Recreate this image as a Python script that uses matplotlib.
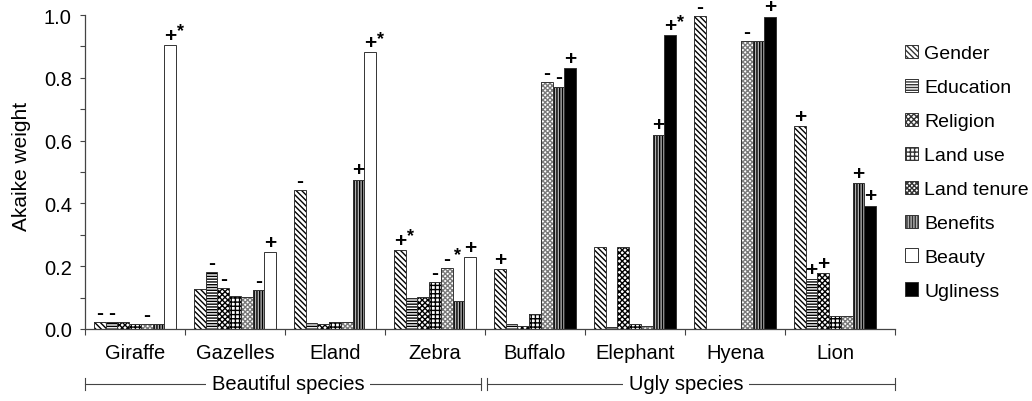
import matplotlib

matplotlib.use("Agg")
import matplotlib.pyplot as plt
import numpy as np
from matplotlib.patches import Patch
from matplotlib.transforms import blended_transform_factory

plt.rcParams["font.family"] = ["Liberation Sans", "DejaVu Sans"]
plt.rcParams["hatch.linewidth"] = 1.0

nan = np.nan
species = ["Giraffe", "Gazelles", "Eland", "Zebra",
           "Buffalo", "Elephant", "Hyena", "Lion"]
gender = [0.021, 0.128, 0.443, 0.252, 0.191, 0.260, 0.996, 0.646]
education = [0.023, 0.180, 0.019, 0.098, 0.016, 0.005, 0.0, 0.159]
religion = [0.021, 0.130, 0.016, 0.101, 0.011, 0.260, 0.0, 0.177]
land_use = [0.016, 0.105, 0.021, 0.149, 0.048, 0.016, 0.0, 0.042]
land_tenure = [0.016, 0.101, 0.023, 0.193, 0.786, 0.011, 0.916, 0.042]
benefits = [0.015, 0.124, 0.476, 0.089, 0.772, 0.619, 0.916, 0.465]
beauty = [0.905, 0.244, 0.881, 0.230, nan, nan, nan, nan]
ugliness = [nan, nan, nan, nan, 0.831, 0.936, 0.995, 0.393]

# signs above bars, per species, for the 7 drawn bars
# (Gender, Education, Religion, Land use, Land tenure, Benefits, Beauty/Ugliness)
signs = [
    ["-", "-", "", "", "-", "", "+*"],
    ["", "-", "-", "", "", "-", "+"],
    ["-", "", "", "", "", "+", "+*"],
    ["+*", "", "", "-", "-*", "", "+"],
    ["+", "", "", "", "-", "-", "+"],
    ["", "", "", "", "", "+", "+*"],
    ["-", "", "", "", "-", "", "+"],
    ["+", "+", "+", "", "", "+", "+"],
]

labels = ["Gender", "Education", "Religion", "Land use", "Land tenure",
          "Benefits", "Beauty", "Ugliness"]
styles = {
    "Gender": dict(facecolor="white", hatch="\\" * 6, hc="black"),
    "Education": dict(facecolor="white", hatch="-" * 6, hc="black"),
    "Religion": dict(facecolor="white", hatch="x" * 6, hc="black"),
    "Land use": dict(facecolor="white", hatch="++++", hc="black"),
    "Land tenure": dict(facecolor="white", hatch="x" * 7, hc="#7a7a7a"),
    "Benefits": dict(facecolor="#b0b0b0", hatch="|" * 6, hc="black"),
    "Beauty": dict(facecolor="white", hatch=None, hc="black"),
    "Ugliness": dict(facecolor="black", hatch=None, hc="black"),
}

fig = plt.figure(figsize=(10.32, 4.02), dpi=100)
ax = fig.add_axes([85 / 1032, 72 / 402, 810 / 1032, 314 / 402])

x = np.arange(len(species))
w = 0.117
series = [gender, education, religion, land_use, land_tenure, benefits]
for j, vals in enumerate(series):
    st = styles[labels[j]]
    pos = x + (j - 3) * w
    ax.bar(pos, vals, w, facecolor=st["facecolor"], hatch=st["hatch"],
           edgecolor=st["hc"], linewidth=0)
    ax.bar(pos, vals, w, facecolor="none", edgecolor="#333333", linewidth=0.7)

last = [b if not np.isnan(b) else u for b, u in zip(beauty, ugliness)]
for i in range(len(species)):
    name = "Beauty" if not np.isnan(beauty[i]) else "Ugliness"
    st = styles[name]
    ax.bar(x[i] + 3 * w, last[i], w, facecolor=st["facecolor"],
           edgecolor="#333333", linewidth=0.7)

# significance signs
for i in range(len(species)):
    vals = [s[i] for s in series] + [last[i]]
    for j, s in enumerate(signs[i]):
        if not s:
            continue
        bx = x[i] + (j - 3) * w
        ax.annotate(s[0], (bx, vals[j]), xytext=(0, 7),
                    textcoords="offset points", ha="center", va="center",
                    fontsize=15, fontweight="bold")
        if "*" in s:
            ax.annotate("*", (bx, vals[j]), xytext=(7.5, 10),
                        textcoords="offset points", ha="center", va="center",
                        fontsize=13, fontweight="bold")

ax.set_xlim(-0.5, 7.6)
ax.set_ylim(0, 1.0)
ax.spines["top"].set_visible(False)
ax.spines["right"].set_visible(False)
for sp in ("left", "bottom"):
    ax.spines[sp].set_linewidth(0.9)
    ax.spines[sp].set_color("#444444")

fs = 14.5
ax.set_yticks(np.arange(0, 1.01, 0.2))
ax.set_yticks(np.arange(0.1, 1.0, 0.2), minor=True)
ax.set_yticklabels([f"{v:.1f}" for v in np.arange(0, 1.01, 0.2)], fontsize=fs)
ax.tick_params(axis="y", which="both", direction="out", length=3.5,
               width=0.8, color="#444444", pad=6)

ax.set_xticks(list(np.arange(-0.5, 7, 1.0)) + [7.6])
ax.set_xticklabels([])
ax.set_xticks(x, minor=True)
ax.set_xticklabels(species, minor=True, fontsize=fs)
ax.tick_params(axis="x", which="major", direction="out", length=4,
               width=0.8, color="#444444")
ax.tick_params(axis="x", which="minor", length=0, pad=10)

fig.text(22 / 1032, 0.585, "Akaike weight", rotation=90, ha="center",
         va="center", fontsize=15)

# group brackets
tr = blended_transform_factory(ax.transData, fig.transFigure)
yb = (402 - 385) / 402
for x0, x1, text in [(-0.5, 3.46, "Beautiful species"),
                     (3.52, 7.6, "Ugly species")]:
    ax.plot([x0, x1], [yb, yb], transform=tr, color="#444444", lw=0.8,
            clip_on=False)
    for xe in (x0, x1):
        ax.plot([xe, xe], [yb - 0.015, yb + 0.015], transform=tr,
                color="#444444", lw=0.8, clip_on=False)
    ax.text((x0 + x1) / 2 + (0.05 if x0 < 0 else -0.05), yb, text,
            transform=tr, ha="center", va="center", fontsize=fs,
            bbox=dict(facecolor="white", edgecolor="none", pad=4))

handles = []
for name in labels:
    st = styles[name]
    handles.append(Patch(facecolor=st["facecolor"], hatch=st["hatch"],
                         edgecolor="#333333", linewidth=0.7))
fig.legend(handles, labels, loc="upper left",
           bbox_to_anchor=(897 / 1032, (402 - 38) / 402), frameon=False,
           fontsize=14, handlelength=0.7, handleheight=0.7,
           handletextpad=0.3, labelspacing=0.84, borderaxespad=0)

fig.savefig("out.png", dpi=100)
